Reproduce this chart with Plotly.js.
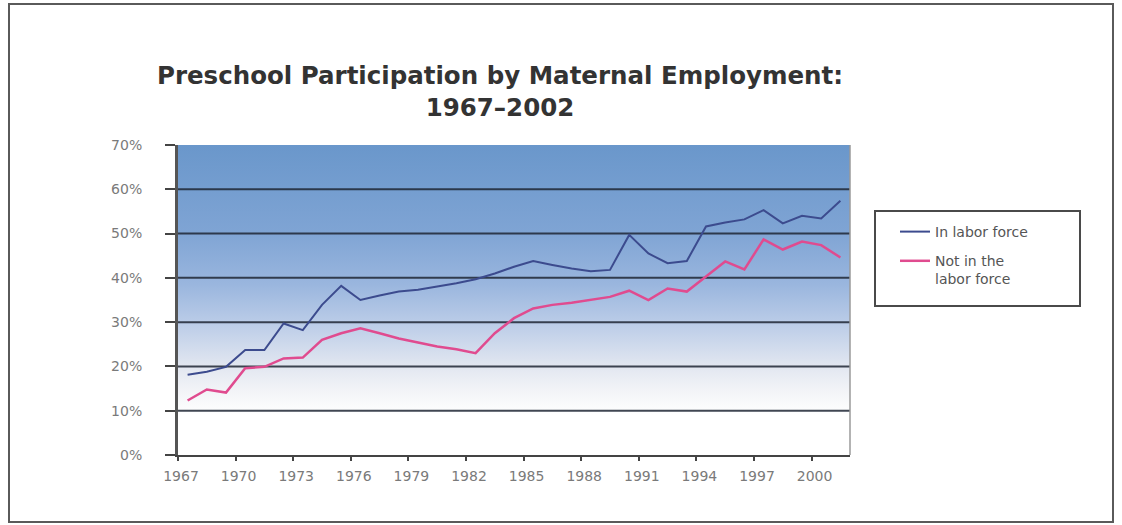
<!DOCTYPE html>
<html>
<head>
<meta charset="utf-8">
<script src="https://cdn.plot.ly/plotly-3.0.1.min.js"></script>
<style>
  html, body { margin: 0; padding: 0; background: #ffffff; }
  #chart { width: 1122px; height: 525px; }
</style>
</head>
<body>
<div id="chart"></div>
<script>
// Share of 3-4 year olds enrolled in preschool, by mother's labor-force status
const years = [];
for (let y = 1967; y <= 2001; y++) years.push(y);

const inLaborForce = [
  18.1, 18.8, 19.9, 23.7, 23.7, 29.7, 28.2, 33.9, 38.2, 35.0,
  36.0, 36.9, 37.3, 38.0, 38.8, 39.7, 41.0, 42.5, 43.8, 42.9,
  42.1, 41.5, 41.8, 49.7, 45.5, 43.3, 43.8, 51.6, 52.5, 53.2,
  55.3, 52.3, 54.0, 53.4, 57.4
];

const notInLaborForce = [
  12.3, 14.8, 14.1, 19.6, 19.9, 21.8, 22.0, 26.0, 27.5, 28.6,
  27.5, 26.3, 25.4, 24.5, 23.9, 23.0, 27.5, 30.9, 33.1, 33.9,
  34.4, 35.0, 35.7, 37.1, 35.0, 37.6, 36.9, 40.3, 43.7, 41.9,
  48.7, 46.4, 48.2, 47.4, 44.6
];

const tickYears = [1967, 1970, 1973, 1976, 1979, 1982, 1985, 1988, 1991, 1994, 1997, 2000];
const yTickValues = [0, 10, 20, 30, 40, 50, 60, 70];
const yTickLabels = ['0%', '10%', '20%', '30%', '40%', '50%', '60%', '70%'];
const gridValues = [10, 20, 30, 40, 50, 60];
const seriesNames = ['In labor force', 'Not in the<br>labor force'];

// page geometry (pixels)
const W = 1122, H = 525;
const M = { l: 178, r: 272, t: 145, b: 70 };
const plotW = W - M.l - M.r, plotH = H - M.t - M.b;
const px = x => (x - M.l) / plotW;
const py = y => (H - M.b - y) / plotH;

// vertical blue-to-white wash behind the plot area
const gradientSvg =
  "<svg xmlns='http://www.w3.org/2000/svg' width='100' height='100' preserveAspectRatio='none'>" +
  "<defs><linearGradient id='g' x1='0' y1='0' x2='0' y2='1'>" +
  "<stop offset='0' stop-color='#6a97cb'/>" +
  "<stop offset='0.28' stop-color='#7fa4d4'/>" +
  "<stop offset='0.45' stop-color='#9ab6de'/>" +
  "<stop offset='0.58' stop-color='#bccde8'/>" +
  "<stop offset='0.71' stop-color='#e1e6f0'/>" +
  "<stop offset='0.80' stop-color='#f4f5f8'/>" +
  "<stop offset='0.87' stop-color='#ffffff'/>" +
  "<stop offset='1' stop-color='#ffffff'/>" +
  "</linearGradient></defs><rect width='100' height='100' fill='url(#g)'/></svg>";

const traces = [
  {
    x: years, y: inLaborForce, name: seriesNames[0], type: 'scatter', mode: 'lines',
    line: { color: '#3c4b8e', width: 2 }, legendgroup: 'a'
  },
  {
    x: years, y: notInLaborForce, name: seriesNames[1], type: 'scatter', mode: 'lines',
    line: { color: '#e04b8f', width: 2.5 }, legendgroup: 'b'
  }
];

const shapes = gridValues.map(v => ({
  type: 'line', xref: 'paper', yref: 'y', x0: 0, x1: 1, y0: v, y1: v,
  line: { color: 'rgba(30,38,52,0.85)', width: 2 }, layer: 'below'
}));

// right edge of plot area
shapes.push({
  type: 'line', xref: 'paper', yref: 'paper', x0: 1, x1: 1, y0: 0, y1: 1,
  line: { color: '#9a9a9a', width: 1.5 }
});
// legend box
shapes.push({
  type: 'rect', xref: 'paper', yref: 'paper',
  x0: px(875), x1: px(1080), y0: py(306), y1: py(211),
  line: { color: '#4a4a4a', width: 2 }, fillcolor: 'rgba(0,0,0,0)'
});
// outer frame
shapes.push({
  type: 'rect', xref: 'paper', yref: 'paper',
  x0: px(9), x1: px(1113), y0: py(522), y1: py(4),
  line: { color: '#5a5a5a', width: 2 }, fillcolor: 'rgba(0,0,0,0)'
});

const tickFont = { family: 'DejaVu Sans, sans-serif', size: 14, color: '#7a7a7a' };

const layout = {
  width: W, height: H,
  margin: M,
  paper_bgcolor: '#ffffff',
  plot_bgcolor: 'rgba(0,0,0,0)',
  title: {
    text: 'Preschool Participation by Maternal Employment:<br>1967–2002',
    font: { family: 'DejaVu Sans, sans-serif', size: 24.5, color: '#333333', weight: 'bold' },
    xref: 'container', yref: 'container',
    x: 500 / W, xanchor: 'center',
    y: 1 - 84 / H, yanchor: 'top'
  },
  xaxis: {
    type: 'linear',
    range: [years[0] - 0.5, years[years.length - 1] + 0.5],
    tickvals: tickYears.map(y => y - 0.5),
    ticktext: tickYears.map(String),
    ticklabelshift: 3,
    ticklabelstandoff: 3,
    showgrid: false, zeroline: false,
    showline: true, linecolor: '#444444', linewidth: 2,
    ticks: 'outside', ticklen: 4, tickwidth: 2, tickcolor: '#444444',
    tickfont: tickFont
  },
  yaxis: {
    range: [0, 70],
    tickvals: yTickValues,
    ticktext: yTickLabels,
    showgrid: false, zeroline: false,
    showline: true, linecolor: '#555555', linewidth: 3,
    ticks: 'outside', ticklen: 10, tickwidth: 2, tickcolor: '#444444',
    ticklabelstandoff: 20,
    tickfont: tickFont
  },
  showlegend: true,
  legend: {
    x: px(895), xanchor: 'left', xref: 'paper',
    y: py(216), yanchor: 'top', yref: 'paper',
    bgcolor: 'rgba(0,0,0,0)', borderwidth: 0,
    font: { family: 'DejaVu Sans, sans-serif', size: 14, color: '#555555' },
    valign: 'top', tracegroupgap: 8
  },
  images: [{
    source: 'data:image/svg+xml;charset=utf-8,' + encodeURIComponent(gradientSvg),
    xref: 'paper', yref: 'paper', x: 0, y: 1, sizex: 1, sizey: 1,
    sizing: 'stretch', xanchor: 'left', yanchor: 'top', layer: 'below'
  }],
  shapes: shapes
};

Plotly.newPlot('chart', traces, layout, { staticPlot: true, displayModeBar: false });
</script>
</body>
</html>
